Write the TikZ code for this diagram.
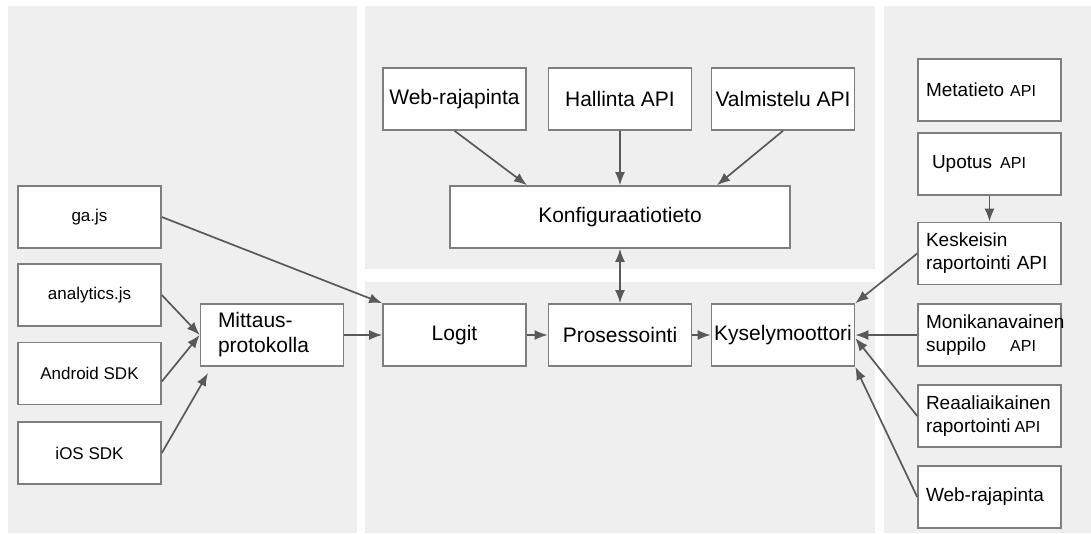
\documentclass[tikz,border=0pt]{standalone}
\usepackage{fontspec}
\setmainfont{Liberation Sans}
\usetikzlibrary{arrows.meta}
\definecolor{panelgray}{HTML}{EFEFEF}
\definecolor{boxline}{HTML}{7E7E7E}
\definecolor{arrowgray}{HTML}{595959}
\newcommand\bigtxt{\fontsize{21}{25}\selectfont}
\newcommand\smalltxt{\fontsize{17}{20}\selectfont}
\newcommand\sidetxt{\fontsize{19}{23}\selectfont}
\newcommand\apitxt{\fontsize{16}{19}\selectfont}
\tikzset{
  panel/.style={fill=panelgray, draw=none},
  box/.style={draw=boxline, fill=white, line width=1.6pt, minimum width=143pt,
    minimum height=62pt, inner sep=0pt, font=\bigtxt},
  srcbox/.style={box, font=\smalltxt},
  apibox/.style={box, font=\sidetxt, align=left, text width=127pt, inner xsep=8pt},
  flow/.style={draw=arrowgray, line width=1.7pt, -{Latex[length=13pt,width=10pt]}},
  flowboth/.style={flow, {Latex[length=13pt,width=10pt]}-{Latex[length=13pt,width=10pt]}},
}
\begin{document}
\begin{tikzpicture}[x=1pt, y=-1pt]
      \useasboundingbox[fill=white] (0,0) rectangle (1091,533);
      \fill[panel] (8,6) rectangle (357,533);
      \fill[panel] (365,6) rectangle (875,269);
      \fill[panel] (365,282) rectangle (875,533);
      \fill[panel] (884,6) rectangle (1091,533);
      \node[srcbox] (ga) at (89.5,217) {ga.js};
      \node[srcbox] (analytics) at (89.5,295) {analytics.js};
      \node[srcbox] (android) at (89.5,373.5) {Android SDK};
      \node[srcbox] (ios) at (89.5,453) {iOS SDK};
      \node[box, align=left, text width=108pt, inner xsep=17pt] (mittaus) at (272,335) {Mittaus-\\protokolla};
      \coordinate (iosend) at (208,373);
      \node[box] (webui) at (454.5,99) {Web-rajapinta};
      \node[box] (hallinta) at (620,99) {Hallinta API};
      \node[box] (valmistelu) at (783,99) {Valmistelu API};
      \node[box, minimum width=340pt] (konf) at (620,217) {Konfiguraatiotieto};
      \node[box] (logit) at (454.5,335) {Logit};
      \node[box] (proses) at (620,335) {Prosessointi};
      \node[box] (kysely) at (783,335) {Kyselymoottori};
      \node[apibox] (meta) at (989.5,90) {Metatieto\hspace{6pt}{\apitxt API}};
      \node[apibox] (upotus) at (989.5,164) {\hspace{6pt}Upotus\hspace{8pt}{\apitxt API}};
      \node[apibox] (keskeisin) at (989.5,253.5) {Keskeisin\\raportointi API};
      \node[apibox] (moni) at (989.5,335) {Monikanavainen\\suppilo\hspace{24pt}{\apitxt API}};
      \node[apibox] (reaali) at (989.5,416) {Reaaliaikainen\\raportointi\hspace{4pt}{\apitxt API}};
      \node[apibox] (webr) at (989.5,497) {Web-rajapinta};
      \draw[flow] (ga.east) -- (logit.north west);
      \draw[flow] (analytics.east) -- (mittaus.west);
      \draw[flow] ([yshift=-8pt]android.east) -- (mittaus.west);
      \draw[flow] (ios.east) -- (iosend);
      \draw[flow] (mittaus.east) -- (logit.west);
      \draw[flow] (logit) -- (proses);
      \draw[flow] (proses) -- (kysely);
      \draw[flowboth] (konf) -- (proses);
      \draw[flow] (webui.south) -- ([xshift=-93pt]konf.north);
      \draw[flow] (hallinta) -- (konf);
      \draw[flow] (valmistelu.south) -- ([xshift=97pt]konf.north);
      \draw[flow] (upotus) -- (keskeisin);
      \draw[flow] (keskeisin.west) -- (kysely.north east);
      \draw[flow] (moni.west) -- (kysely.east);
      \draw[flow] (reaali.west) -- ([yshift=-3pt]kysely.east);
      \draw[flow] (webr.west) -- (kysely.south east);
    \end{tikzpicture}
\end{document}
